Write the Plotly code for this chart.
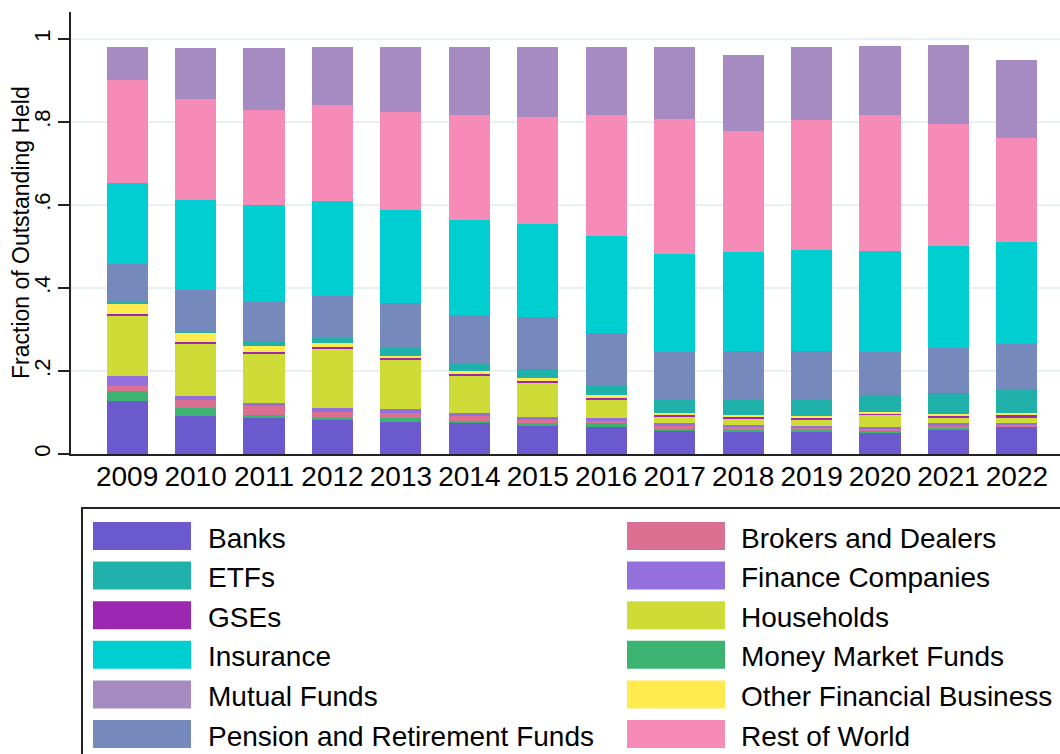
import plotly.graph_objects as go

years = ["2009", "2010", "2011", "2012", "2013", "2014", "2015",
         "2016", "2017", "2018", "2019", "2020", "2021", "2022"]

# Stack order bottom -> top
banks = [0.128, 0.091, 0.086, 0.082, 0.078, 0.074, 0.068, 0.066, 0.056, 0.054, 0.054, 0.051, 0.060, 0.066]
money_market = [0.025, 0.021, 0.009, 0.005, 0.008, 0.005, 0.006, 0.008, 0.005, 0.004, 0.004, 0.005, 0.003, 0.001]
brokers = [0.012, 0.017, 0.020, 0.014, 0.014, 0.013, 0.009, 0.005, 0.007, 0.007, 0.005, 0.004, 0.005, 0.002]
finance_cos = [0.024, 0.010, 0.009, 0.009, 0.008, 0.007, 0.007, 0.007, 0.006, 0.005, 0.005, 0.005, 0.006, 0.005]
households = [0.144, 0.127, 0.116, 0.142, 0.119, 0.088, 0.081, 0.045, 0.016, 0.016, 0.014, 0.029, 0.013, 0.015]
gses = [0.005, 0.005, 0.005, 0.005, 0.005, 0.005, 0.005, 0.004, 0.004, 0.004, 0.005, 0.004, 0.005, 0.004]
other_fin = [0.025, 0.020, 0.015, 0.011, 0.005, 0.007, 0.007, 0.006, 0.006, 0.005, 0.005, 0.003, 0.005, 0.006]
etfs = [0.003, 0.006, 0.009, 0.012, 0.018, 0.019, 0.022, 0.024, 0.029, 0.036, 0.039, 0.041, 0.051, 0.055]
pension = [0.091, 0.098, 0.098, 0.101, 0.108, 0.116, 0.124, 0.126, 0.117, 0.116, 0.117, 0.104, 0.108, 0.111]
insurance = [0.196, 0.218, 0.232, 0.229, 0.226, 0.230, 0.224, 0.235, 0.237, 0.239, 0.244, 0.244, 0.246, 0.246]
rest_of_world = [0.249, 0.243, 0.230, 0.231, 0.234, 0.253, 0.259, 0.291, 0.323, 0.293, 0.313, 0.327, 0.293, 0.250]
mutual_funds = [0.078, 0.123, 0.150, 0.140, 0.158, 0.163, 0.169, 0.164, 0.174, 0.182, 0.176, 0.165, 0.190, 0.188]

y_ticks = [0, 0.2, 0.4, 0.6, 0.8, 1.0]
y_tick_labels = ["0", ".2", ".4", ".6", ".8", "1"]
y_title = "Fraction of Outstanding Held"

series = [
    ("Banks", banks, "#6a5acd"),
    ("Money Market Funds", money_market, "#3cb371"),
    ("Brokers and Dealers", brokers, "#db7093"),
    ("Finance Companies", finance_cos, "#9370db"),
    ("Households", households, "#cfdc38"),
    ("GSEs", gses, "#9c27b0"),
    ("Other Financial Business", other_fin, "#ffeb4d"),
    ("ETFs", etfs, "#20b2aa"),
    ("Pension and Retirement Funds", pension, "#7689bd"),
    ("Insurance", insurance, "#00ced1"),
    ("Rest of World", rest_of_world, "#f78bb7"),
    ("Mutual Funds", mutual_funds, "#a58bc2"),
]
colors = {n: c for n, _, c in series}

legend_left = ["Banks", "ETFs", "GSEs", "Insurance", "Mutual Funds", "Pension and Retirement Funds"]
legend_right = ["Brokers and Dealers", "Finance Companies", "Households", "Money Market Funds",
                "Other Financial Business", "Rest of World"]

FONT = "Liberation Sans, Arial, Helvetica, sans-serif"
W, H = 1060, 754
ML, MR, MT, MB = 71, 0, 12, 300
PW, PH = W - ML - MR, H - MT - MB

xs = list(range(len(years)))

fig = go.Figure()
for name, vals, col in series:
    fig.add_trace(go.Bar(
        x=xs, y=vals, name=name, marker=dict(color=col, line=dict(width=0)),
        showlegend=False,
    ))


def px(x):
    return (x - ML) / PW


def py(y):
    return (H - MB - y) / PH


shapes = []
annotations = []
# legend frame
shapes.append(dict(type="rect", xref="paper", yref="paper",
                   x0=px(82), x1=px(1062), y0=py(508), y1=py(758),
                   line=dict(color="#222222", width=2), fillcolor="white", layer="above"))
row0 = 522
pitch = 39.6
for col_i, names in enumerate([legend_left, legend_right]):
    sx0 = 93 if col_i == 0 else 627
    tx = 208 if col_i == 0 else 741
    for r, name in enumerate(names):
        y0 = row0 + r * pitch
        shapes.append(dict(type="rect", xref="paper", yref="paper",
                           x0=px(sx0), x1=px(sx0 + 98), y0=py(y0), y1=py(y0 + 28),
                           line=dict(width=0), fillcolor=colors[name], layer="above"))
        annotations.append(dict(xref="paper", yref="paper", x=px(tx - 2), y=py(y0 + 16),
                                text=name, showarrow=False, xanchor="left", yanchor="middle",
                                font=dict(family=FONT, size=28, color="black")))

# y-axis title
annotations.append(dict(xref="paper", yref="paper", x=px(21), y=py(233), text=y_title,
                        textangle=-90, showarrow=False, xanchor="center", yanchor="middle",
                        font=dict(family=FONT, size=23, color="black")))

fig.update_layout(
    barmode="stack",
    bargap=0.4,
    width=W, height=H,
    margin=dict(l=ML, r=MR, t=MT, b=MB, pad=0),
    paper_bgcolor="white",
    plot_bgcolor="white",
    font=dict(family=FONT, color="black"),
    shapes=shapes,
    annotations=annotations,
    xaxis=dict(
        range=[-0.82, 13.63],
        tickvals=xs, ticktext=years,
        tickfont=dict(size=28, family=FONT, color="black"),
        showline=True, linecolor="#222222", linewidth=2,
        ticks="", showgrid=False, zeroline=False,
        ticklabelstandoff=-4,
    ),
    yaxis=dict(
        range=[0, 1.065],
        tickvals=y_ticks, ticktext=y_tick_labels,
        tickangle=-90,
        tickfont=dict(size=22, family=FONT, color="black"),
        ticks="outside", ticklen=11, tickwidth=1.5, tickcolor="#222222",
        ticklabelstandoff=-1,
        showline=True, linecolor="#222222", linewidth=2,
        showgrid=True, gridcolor="#e9f0f2", gridwidth=2,
        zeroline=False,
    ),
)

fig.write_html("out.html", config={"displayModeBar": False},
               post_script="document.body.style.margin='0';document.body.style.overflow='hidden';")
